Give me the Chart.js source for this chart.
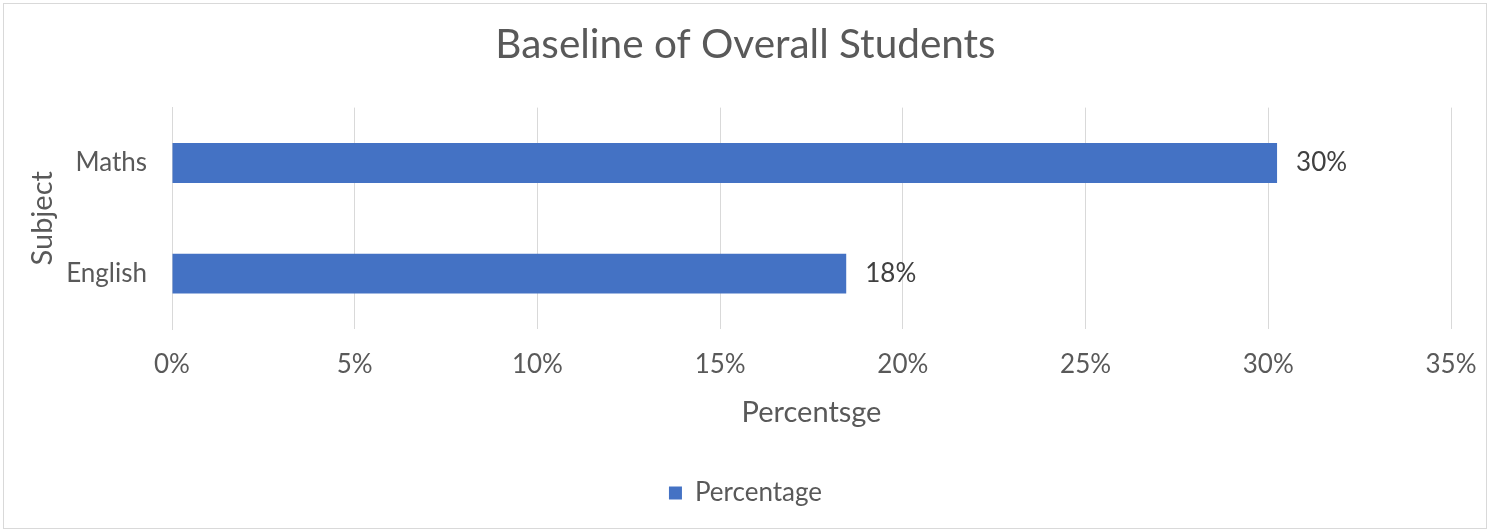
<!DOCTYPE html>
<html>
<head>
<meta charset="utf-8">
<script src="https://cdn.jsdelivr.net/npm/chart.js@4/dist/chart.umd.min.js"></script>
<style>
  html, body { margin: 0; padding: 0; background: #fff; }
  #wrap { position: relative; width: 1491px; height: 532px; }
  #frame { position: absolute; left: 3px; top: 3px; width: 1484px; height: 526px;
           border: 1px solid #d9d9d9; box-sizing: border-box; }
  #chart { position: absolute; left: 0; top: 0; }
</style>
</head>
<body>
<div id="wrap">
  <div id="frame"></div>
  <canvas id="chart" width="1491" height="532"></canvas>
</div>
<script>
const subjects = ['Maths', 'English'];
const percentages = [30.24, 18.45];
const xTicks = [0, 5, 10, 15, 20, 25, 30, 35];

const FONT = 'Lato';
const GREY = '#595959';

// value labels at the end of each bar
const barLabels = {
  id: 'barLabels',
  afterDatasetsDraw(chart) {
    const ctx = chart.ctx;
    const meta = chart.getDatasetMeta(0);
    ctx.save();
    ctx.font = '26px ' + FONT;
    ctx.fillStyle = '#404040';
    ctx.textAlign = 'left';
    ctx.textBaseline = 'middle';
    meta.data.forEach(function(bar, i) {
      ctx.fillText(Math.round(percentages[i]) + '%', bar.x + 19, bar.y);
    });
    ctx.restore();
  }
};

const ctx = document.getElementById('chart').getContext('2d');

new Chart(ctx, {
  type: 'bar',
  data: {
    labels: subjects,
    datasets: [{
      label: 'Percentage',
      data: percentages,
      backgroundColor: '#4472C4',
      borderWidth: 0,
      barPercentage: 0.36,
      categoryPercentage: 1
    }]
  },
  options: {
    indexAxis: 'y',
    responsive: false,
    animation: false,
    layout: { padding: { left: 9, right: 9, top: 0, bottom: 16 } },
    plugins: {
      title: {
        display: true,
        text: 'Baseline of Overall Students',
        color: GREY,
        font: { family: FONT, size: 40.5, weight: 'normal', lineHeight: 1.2 },
        padding: { top: 21, bottom: 38 }
      },
      legend: {
        position: 'bottom',
        labels: {
          color: GREY,
          font: { family: FONT, size: 26 },
          boxWidth: 13,
          boxHeight: 13,
          padding: 10
        }
      },
      tooltip: { enabled: false }
    },
    scales: {
      x: {
        min: 0,
        max: 35,
        afterBuildTicks(scale) {
          scale.ticks = xTicks.map(v => ({ value: v }));
        },
        afterFit(scale) {
          scale.height = 141;
          scale.paddingRight = 40;
        },
        grid: { color: '#d9d9d9', drawTicks: false },
        border: { display: false },
        ticks: {
          color: GREY,
          font: { family: FONT, size: 26 },
          padding: 20,
          callback: v => v + '%'
        },
        title: {
          display: true,
          text: 'Percentsge',
          color: GREY,
          font: { family: FONT, size: 29, lineHeight: 1 },
          padding: { top: 0, bottom: 43 }
        }
      },
      y: {
        afterFit(scale) { scale.width = 163; },
        grid: { display: false, drawTicks: false },
        border: { display: true, color: '#d9d9d9' },
        ticks: {
          color: GREY,
          font: { family: FONT, size: 26 },
          padding: 25
        },
        title: {
          display: true,
          text: 'Subject',
          color: GREY,
          font: { family: FONT, size: 29, lineHeight: 1 },
          padding: { top: 19, bottom: 0 }
        }
      }
    }
  },
  plugins: [barLabels]
});
</script>
</body>
</html>
